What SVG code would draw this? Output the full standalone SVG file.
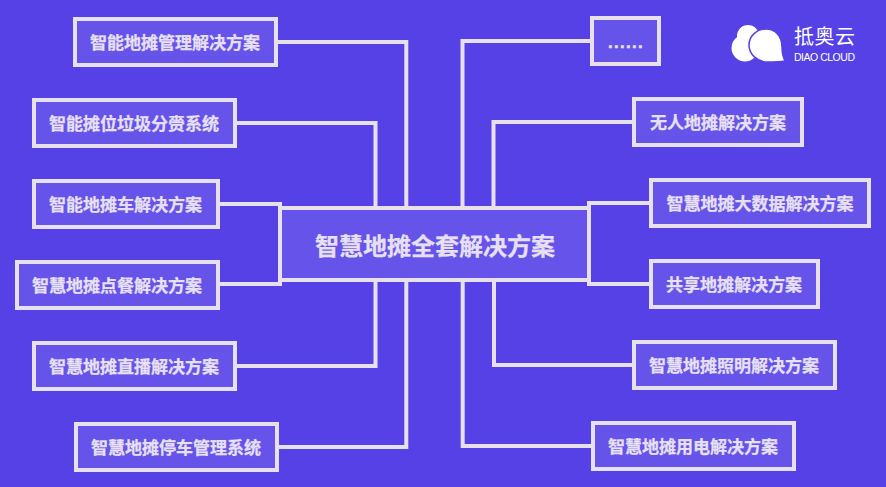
<svg xmlns="http://www.w3.org/2000/svg" width="886" height="487" viewBox="0 0 886 487">
<style>
.b{fill:#6653e9;stroke:#e6e0ef;stroke-width:4}
.t{font-family:"Noto Sans CJK SC","Liberation Sans",sans-serif;font-weight:700;font-size:17px;fill:#e6e0f2;stroke:#e6e0f2;stroke-width:.25;text-anchor:middle}
.c{fill:none;stroke:#e6e0ef;stroke-width:4}
</style>
<rect width="886" height="487" fill="#5641e6"/>
<g id="connectors" class="c">
<path d="M276 42H406.3V208"/>
<path d="M235 123H375.5V208"/>
<path d="M218 204H280V284H218"/>
<path d="M235 366H375.5V281"/>
<path d="M277 447H406.3V281"/>
<path d="M592 41H462.5V208"/>
<path d="M634 122H493.5V208"/>
<path d="M651 203H589V284H651"/>
<path d="M634 365H494V281"/>
<path d="M593 446H462.7V281"/>
</g>
<g id="center"><rect class="b" x="280" y="208" width="309" height="72"/><text class="t" x="435" y="254.5" style="font-size:24px">智慧地摊全套解决方案</text></g>
<g id="n1"><rect class="b" x="75" y="19" width="201" height="46"/><text class="t" x="175" y="49">智能地摊管理解决方案</text></g>
<g id="n2"><rect class="b" x="34" y="100" width="201" height="46"/><text class="t" x="134" y="130">智能摊位垃圾分赍系统</text></g>
<g id="n3"><rect class="b" x="34" y="181" width="184" height="46"/><text class="t" x="125.500" y="211">智能地摊车解决方案</text></g>
<g id="n4"><rect class="b" x="17" y="262" width="201" height="46"/><text class="t" x="117" y="292">智慧地摊点餐解决方案</text></g>
<g id="n5"><rect class="b" x="34" y="343" width="201" height="46"/><text class="t" x="134" y="373">智慧地摊直播解决方案</text></g>
<g id="n6"><rect class="b" x="76" y="424" width="201" height="46"/><text class="t" x="176" y="454">智慧地摊停车管理系统</text></g>
<g id="n7"><rect class="b" x="592" y="18" width="67" height="46"/><text x="608" y="47.500" style="font-family:'Liberation Sans',sans-serif;font-weight:700;font-size:17px;letter-spacing:1.28px;fill:#e6e0f2;stroke:#e6e0f2;stroke-width:.5">......</text></g>
<g id="n8"><rect class="b" x="634" y="99" width="168" height="46"/><text class="t" x="718" y="129">无人地摊解决方案</text></g>
<g id="n9"><rect class="b" x="651" y="180" width="218" height="46"/><text class="t" x="760" y="209.500">智慧地摊大数据解决方案</text></g>
<g id="n10"><rect class="b" x="651" y="261" width="167" height="46"/><text class="t" x="734" y="290.500">共享地摊解决方案</text></g>
<g id="n11"><rect class="b" x="634" y="342" width="201" height="46"/><text class="t" x="734" y="372">智慧地摊照明解决方案</text></g>
<g id="n12"><rect class="b" x="593" y="423" width="201" height="46"/><text class="t" x="693" y="453">智慧地摊用电解决方案</text></g>
<g id="logo">
<circle cx="748" cy="36" r="11" fill="#fff"/>
<circle cx="745" cy="48" r="13.500" fill="#fff"/>
<path d="M768 62C757 62 749 54 749 45C749 36 757 29 766 29C776 29 782 37 782 47C782 52 783 57 785 61C779 62 774 62 768 62Z" fill="#fff" stroke="#5641e6" stroke-width="1.500"/>
<text x="794" y="44" font-family="'Noto Sans CJK SC',sans-serif" font-size="20" fill="#fff" textLength="61">抵奥云</text>
<text x="794" y="60.500" font-family="'Liberation Sans',sans-serif" font-size="10.500" fill="#fff" textLength="61">DIAO CLOUD</text>
</g>
</svg>
